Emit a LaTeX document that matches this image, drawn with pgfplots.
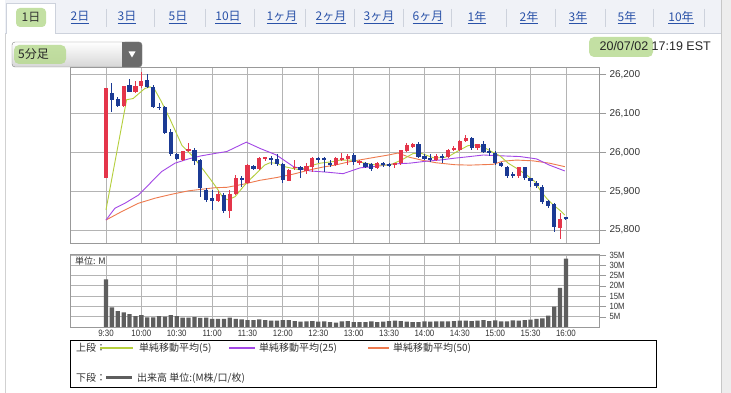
\documentclass[border=0pt]{standalone}
\usepackage{fontspec}
\setmainfont{Liberation Sans}
\newfontfamily\cjk{Noto Sans CJK JP}
\newfontfamily\cond[FakeStretch=0.86]{Liberation Sans}
\usepackage{pgfplots}
\pgfplotsset{compat=1.18}
\usepackage{pgfplotstable}

\definecolor{cred}{HTML}{E4354A}
\definecolor{cblue}{HTML}{1B3A94}
\definecolor{ma5}{HTML}{B5CF3C}
\definecolor{ma25}{HTML}{A347E6}
\definecolor{ma50}{HTML}{EE7A4E}
\definecolor{vgray}{HTML}{5E5E5E}
\definecolor{gridc}{HTML}{B4B4B4}
\definecolor{axc}{HTML}{999999}
\definecolor{hl}{HTML}{B5D98C}
\definecolor{link}{HTML}{2A52A8}
\definecolor{tabbg}{HTML}{F0F2F7}
\definecolor{tabln}{HTML}{CDD2DC}
\definecolor{txt}{HTML}{333333}

\pgfplotstableread{
i o h l c
0 25935 26164 25935 26164
3 26119 26171 26117 26171
5 26156 26183 26151 26171
6 26171 26205 26166 26183
13 25980 26003 25978 26002
14 26002 26023 26000 26008
19 25875 25900 25873 25892
21 25849 25903 25831 25892
22 25892 25942 25889 25933
24 25920 25971 25918 25967
26 25956 25989 25954 25985
27 25983 25989 25978 25987
31 25926 25957 25925 25955
32 25959 25980 25955 25963
34 25952 25972 25943 25965
35 25963 25987 25950 25985
39 25967 25987 25965 25985
40 25980 25997 25978 25985
41 25983 25995 25968 25991
43 25974 25980 25968 25976
46 25959 25976 25957 25973
49 25969 25972 25959 25972
50 25972 26006 25967 26006
51 26003 26023 26000 26019
52 26014 26023 26012 26020
56 25980 25995 25978 25991
58 25989 26008 25986 26006
59 26006 26015 26003 26010
60 26006 26031 26003 26029
61 26029 26044 26026 26036
63 26010 26020 26006 26020
70 25938 25963 25935 25961
77 25805 25843 25778 25829
}\redtab

\pgfplotstableread{
i o h l c
1 26151 26179 26104 26134
2 26138 26143 26117 26119
4 26173 26187 26154 26156
7 26185 26200 26164 26168
8 26168 26173 26113 26117
9 26117 26126 26108 26113
10 26117 26120 26047 26049
11 26051 26061 25991 25995
12 25995 25997 25980 25983
15 26006 26010 25967 25978
16 25980 25983 25886 25908
17 25903 25908 25873 25878
18 25882 25903 25852 25875
20 25891 25895 25843 25849
23 25933 25940 25912 25928
25 25966 25967 25955 25957
28 25986 25991 25967 25982
29 25983 25996 25966 25969
30 25969 25972 25920 25929
33 25963 25965 25933 25955
36 25985 25987 25972 25982
37 25985 25987 25950 25980
38 25973 25980 25963 25967
42 25993 25997 25968 25974
44 25972 25976 25959 25963
45 25969 25972 25952 25957
47 25972 25974 25961 25967
48 25969 25972 25962 25966
53 26020 26026 25986 25989
54 25991 25995 25980 25983
55 25985 25995 25976 25981
57 25991 25995 25972 25986
62 26036 26038 26006 26010
64 26020 26029 25997 26000
65 26003 26010 25991 25997
66 25997 26002 25967 25972
67 25972 25976 25963 25965
68 25963 25966 25934 25938
69 25943 25949 25935 25938
71 25961 25963 25929 25933
72 25933 25935 25912 25925
73 25922 25926 25908 25914
74 25912 25915 25866 25873
75 25875 25878 25856 25863
76 25867 25869 25796 25809
78 25833 25835 25827 25829
}\bluetab

\pgfplotstableread{
i v
0 23.1
1 9.5
2 7.7
3 7.1
4 6.3
5 5.3
6 5.8
7 4.7
8 4.7
9 5.3
10 5.0
11 5.8
12 5.3
13 4.5
14 4.5
15 4.8
16 4.4
17 4.5
18 3.9
19 4.0
20 4.0
21 4.5
22 3.9
23 3.7
24 3.4
25 3.4
26 3.7
27 3.4
28 3.1
29 3.1
30 3.4
31 3.4
32 2.9
33 2.6
34 2.7
35 2.9
36 2.6
37 2.7
38 2.4
39 2.1
40 2.7
41 2.9
42 2.4
43 2.4
44 2.4
45 2.7
46 2.4
47 2.6
48 2.9
49 3.1
50 2.9
51 2.6
52 2.4
53 2.4
54 2.7
55 2.6
56 2.7
57 2.7
58 2.7
59 2.9
60 3.1
61 3.1
62 2.9
63 3.1
64 3.4
65 2.9
66 3.2
67 2.7
68 2.7
69 3.2
70 3.1
71 3.4
72 3.6
73 4.0
74 4.2
75 5.5
76 9.9
77 19.0
78 33.3
}\voltab

\begin{document}
\begin{tikzpicture}
\useasboundingbox (0,0) rectangle (731pt,393pt);
\fill[white] (0,0) rectangle (731pt,393pt);
\begin{scope}[x=1pt,y=-1pt,yshift=393pt]
  % right strip and left line
  \fill[black!7] (722,0) rectangle (731,393);
  \draw[black!22] (721.5,0) -- (721.5,393);
  \draw[black!18] (5.5,33) -- (5.5,393);
  % tab bar
  \fill[tabbg] (5,0) rectangle (721,33);
  \draw[tabln] (5,33) -- (721,33);
  \fill[white] (6,3) rectangle (55,33.6);
  \draw[tabln] (6,33.6) -- (6,3) -- (55,3) -- (55,33.6);
  \fill[hl, opacity=0.8, rounded corners=4pt] (16,8) rectangle (46,27);
  \node[font=\cjk\fontsize{12}{14}\selectfont, text=txt] at (31,17.5) {1日};
  \foreach \x/\t in {80/2日,127/3日,178/5日,228/10日,282/1ヶ月,331/2ヶ月,379/3ヶ月,428/6ヶ月,477/1年,529/2年,578/3年,627/5年,681/10年}
    \node[font=\cjk\fontsize{12}{14}\selectfont, text=link] at (\x,17.5) {\underline{\t}};
  \foreach \x in {106,154,205,254,305,354,403,451,506,555,605,653,704}
    \draw[tabln] (\x,9) -- (\x,27);
  % dropdown
  \shade[top color=white, bottom color=black!16, rounded corners=3pt] (12,42) rectangle (142,67);
  \fill[black!58, rounded corners=3pt] (122,42) rectangle (142,67);
  \fill[black!58] (122,42) rectangle (128,67);
  \draw[black!50, rounded corners=3pt] (12,42) rectangle (142,67);
  \fill[white] (128.5,51.5) -- (135.5,51.5) -- (132,57.5) -- cycle;
  \fill[hl, opacity=0.8, rounded corners=5pt] (14,45) rectangle (66,64);
  \node[font=\cjk\fontsize{12}{14}\selectfont, text=black!85, anchor=west, inner sep=0pt] at (18,54.5) {5分足};
  % date
  \fill[hl, opacity=0.8, rounded corners=5pt] (589,37) rectangle (653,57);
  \node[font=\fontsize{12.5}{14}\selectfont, text=black!85, anchor=east, inner sep=0pt] at (711,46.5) {20/07/02 17:19 EST};
  % volume unit label
  \node[font=\cjk\fontsize{9}{10}\selectfont, text=txt, anchor=west, inner sep=0pt] at (75,261) {単位: M};
  % legend box
  \draw[black, line width=0.8pt] (70,340) rectangle (656,387);
  \draw[ma5, line width=1.2pt] (100,348) -- (133,348);
  \draw[ma25, line width=1.2pt] (229,348) -- (255,348);
  \draw[ma50, line width=1.2pt] (368,348) -- (389,348);
  \draw[vgray, line width=3pt] (106,378) -- (132,378);
  \begin{scope}[every node/.style={font=\cjk\fontsize{10}{12}\selectfont, text=txt, anchor=west, inner sep=0pt}]
    \node at (76,348) {上段：};
    \node at (139,348) {単純移動平均(5)};
    \node at (259,348) {単純移動平均(25)};
    \node at (393,348) {単純移動平均(50)};
    \node at (76,378) {下段：};
    \node at (137,378) {出来高 単位:(M株/口/枚)};
  \end{scope}
\end{scope}

% ---------- price panel ----------
\begin{axis}[
  at={(70pt,150pt)}, anchor=south west,
  width=529pt, height=176pt, scale only axis,
  xmin=-6.1, xmax=83.6, ymin=25767, ymax=26219,
  axis line style={axc},
  xtick={0,6,...,78}, xticklabels={}, xtick style={draw=none},
  ytick={25800,25900,26000,26100,26200},
  yticklabels={{25,800},{25,900},{26,000},{26,100},{26,200}},
  scaled y ticks=false,
  ytick pos=right, yticklabel pos=right, ytick align=outside,
  major tick length=7pt, ytick style={axc},
  yticklabel style={font=\fontsize{10}{12}\selectfont, text=txt},
  /pgf/number format/assume math mode=true,
  grid=major, grid style={gridc, line width=0.8pt},
]
\addplot[ma50, line width=0.9pt, mark=none] coordinates {(0,25826) (2.7,25848) (5.5,25869) (8.3,25882) (11.1,25892) (14,25901) (16.8,25906) (18.5,25909) (20.5,25910) (23.3,25918) (26.1,25928) (28.9,25935) (31.8,25944) (34.6,25955) (36.8,25962) (38.8,25967) (41.4,25976) (44.8,25985) (47.9,25993) (49.5,25998) (51.5,25987) (53.8,25979) (56,25973) (59.2,25968) (61.7,25967) (65.6,25969) (67.3,25977) (69.6,25980) (72.4,25978) (75.2,25972) (77.8,25963)};
\addplot[ma25, line width=0.9pt, mark=none] coordinates {(0,25826) (1.5,25856) (3.2,25869) (5.5,25890) (7.2,25916) (9.4,25950) (11.7,25972) (14,25983) (16.2,25991) (18.5,25997) (20.5,26002) (23.8,26026) (26.1,26010) (28.9,25993) (31.8,25963) (34.6,25952) (37.4,25949) (40.2,25945) (43.1,25960) (46,25964) (48.7,25970) (51.5,25972) (54.3,25977) (56.6,25980) (59.2,25985) (61.1,25988) (64,25993) (66.8,25991) (70.2,25989) (73,25983) (75.2,25967) (77.8,25952)};
\addplot[ma5, line width=0.9pt, mark=none] coordinates {(0,25852) (3.5,26135) (4.6,26138) (6.6,26164) (7.5,26168) (8.3,26160) (9.4,26130) (10.8,26087) (11.7,26057) (12.9,26017) (14.5,25993) (15.9,25967) (17.6,25933) (18.8,25908) (19.9,25882) (20.7,25878) (21.9,25886) (23.3,25912) (24.1,25925) (25.5,25946) (26.9,25967) (27.8,25973) (28.9,25972) (30.3,25963) (31.5,25959) (32.9,25955) (34.6,25965) (36.3,25972) (38.5,25976) (39.7,25980) (42,25980) (43.6,25973) (45.9,25967) (48.1,25967) (50.1,25980) (52.1,25997) (53.5,25997) (55.5,25986) (57.2,25986) (58.3,25991) (60,26006) (61.4,26017) (62.8,26019) (63.9,26014) (65.6,26000) (66.8,25991) (68.2,25972) (69.6,25959) (71.3,25942) (72.7,25925) (73.6,25903) (74.7,25882) (75.8,25865) (76.9,25852) (77.8,25839)};
% wicks
\addplot[draw=none, mark=none, error bars/.cd, y dir=both, y explicit, error mark=none, error bar style={draw=cred, line width=1pt}]
  table[x=i, y expr={0.5*(\thisrow{h}+\thisrow{l})}, y error expr={0.5*(\thisrow{h}-\thisrow{l})}] \redtab;
\addplot[draw=none, mark=none, error bars/.cd, y dir=both, y explicit, error mark=none, error bar style={draw=cblue, line width=1pt}]
  table[x=i, y expr={0.5*(\thisrow{h}+\thisrow{l})}, y error expr={0.5*(\thisrow{h}-\thisrow{l})}] \bluetab;
% bodies
\addplot[draw=none, mark=none, error bars/.cd, y dir=both, y explicit, error mark=none, error bar style={draw=cred, line width=4.2pt}]
  table[x=i, y expr={0.5*(\thisrow{o}+\thisrow{c})}, y error expr={max(0.5*abs(\thisrow{c}-\thisrow{o}),1.5)}] \redtab;
\addplot[draw=none, mark=none, error bars/.cd, y dir=both, y explicit, error mark=none, error bar style={draw=cblue, line width=4.2pt}]
  table[x=i, y expr={0.5*(\thisrow{o}+\thisrow{c})}, y error expr={max(0.5*abs(\thisrow{c}-\thisrow{o}),1.5)}] \bluetab;
\end{axis}

% ---------- volume panel ----------
\begin{axis}[
  at={(70pt,66pt)}, anchor=south west,
  width=529pt, height=73pt, scale only axis,
  xmin=-6.1, xmax=83.6, ymin=0, ymax=35.5,
  axis line style={axc},
  xtick={0,6,...,78},
  xticklabels={9:30,10:00,10:30,11:00,11:30,12:00,12:30,13:00,13:30,14:00,14:30,15:00,15:30,16:00},
  xtick style={draw=none}, xtick align=inside,
  xticklabel style={font=\cond\fontsize{9.2}{10}\selectfont, text=txt},
  ytick={5,10,...,35}, yticklabels={5M,10M,15M,20M,25M,30M,35M},
  ytick pos=right, yticklabel pos=right, ytick align=outside,
  major tick length=7pt, ytick style={axc},
  yticklabel style={font=\cond\fontsize{9}{9}\selectfont, text=txt},
  /pgf/number format/assume math mode=true,
  grid=major, grid style={gridc, line width=0.8pt},
]
\addplot[ybar, bar width=4.3pt, fill=vgray, draw=none] table[x=i, y=v] \voltab;
\end{axis}
\end{tikzpicture}
\end{document}
